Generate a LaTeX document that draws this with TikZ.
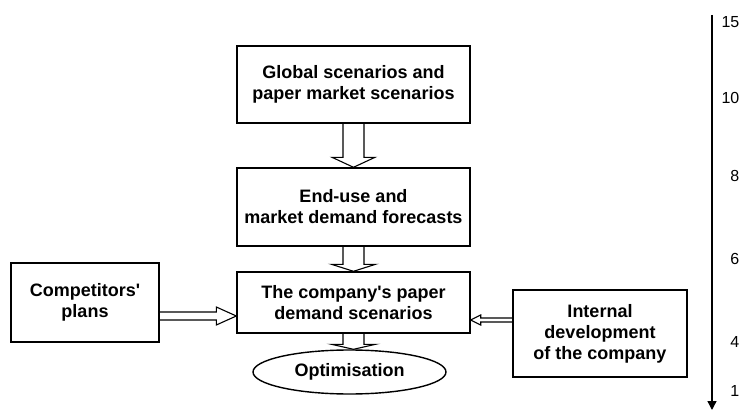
\documentclass[tikz,border=0pt]{standalone}
\usepackage{fontspec}
\setmainfont{Liberation Sans}[Ligatures=TeXOff]
\usetikzlibrary{calc,shapes.geometric,arrows.meta}

% hollow block arrow, vertical: shaft half-width #3, head half-width #4, head length #5
\newcommand\blockv[5]{%
  \draw[blockarrow] ($(#1)+(-#3,0)$) -- ($(#2)+(-#3,{-(#5)})$) -- ($(#2)+(-#4,{-(#5)})$)
    -- (#2) -- ($(#2)+(#4,{-(#5)})$) -- ($(#2)+(#3,{-(#5)})$) -- ($(#1)+(#3,0)$);}
% hollow block arrow, horizontal (negative head length points left)
\newcommand\blockh[5]{%
  \draw[blockarrow] ($(#1)+(0,-#3)$) -- ($(#2)+({-(#5)},-#3)$) -- ($(#2)+({-(#5)},-#4)$)
    -- (#2) -- ($(#2)+({-(#5)},#4)$) -- ($(#2)+({-(#5)},#3)$) -- ($(#1)+(0,#3)$);}

\tikzset{
  box/.style={draw, line width=1.4pt, align=center, inner sep=0pt,
    font=\bfseries\fontsize{18}{21}\selectfont},
  blockarrow/.style={draw, line width=1.1pt, line join=miter},
  scalelabel/.style={anchor=east, inner sep=0pt, font=\fontsize{16}{18}\selectfont},
}

\begin{document}
\begin{tikzpicture}[x=1pt, y=-1pt]
\useasboundingbox (0,0) rectangle (740,412);
\fill[white] (0,0) rectangle (740,412);

% main chain of boxes
\node[box, minimum width=233, minimum height=77] (glob) at (353.5,84.5)
  {Global scenarios and\\paper market scenarios};
\node[box, minimum width=233, minimum height=78] (enduse) at (353.5,207)
  {End-use and\\market demand forecasts};
\node[box, minimum width=233, minimum height=61] (comp) at (353.5,302.5)
  {The company's paper\\demand scenarios};
\node[ellipse, draw, line width=1.4pt, inner sep=0pt, minimum width=193, minimum height=44,
  font=\bfseries\fontsize{18}{21}\selectfont] (opt) at (349.5,372) {Optimisation};

% side inputs
\node[box, minimum width=148, minimum height=79] (rivals) at (85,302.5)
  {Competitors'\\plans};
\node[box, minimum width=174, minimum height=87] (internal) at (600,333.5)
  {Internal\\development\\of the company};

% block arrows down the chain
\blockv{glob.south}{enduse.north}{10.5}{21.5}{10}
\blockv{enduse.south}{comp.north}{10.5}{22}{7}
\coordinate (optin) at (comp.south |- opt.north);
\blockv{comp.south}{optin}{10.5}{22}{5}

% block arrows from the side inputs
\coordinate (rivout) at ($(rivals.east)+(0,13.5)$);
\coordinate (rivin) at (rivout -| comp.west);
\blockh{rivout}{rivin}{4}{9}{20}
\coordinate (intout) at ($(internal.west)+(0,-13.5)$);
\coordinate (intin) at (intout -| comp.east);
\blockh{intout}{intin}{2}{5}{-10}

% time axis
\coordinate (axtop) at (712,15);
\coordinate (axbot) at (712,410);
\draw[line width=1.4pt, -{Triangle[width=9pt,length=9pt]}] (axtop) -- (axbot);
\node[scalelabel] (t15) at (739.5,22) {15};
\node[scalelabel] (t10) at (739.5,98) {10};
\node[scalelabel] (t8) at (739.5,176) {8};
\node[scalelabel] (t6) at (739.5,259) {6};
\node[scalelabel] (t4) at (739.5,342) {4};
\node[scalelabel] (t1) at (739.5,391) {1};
\end{tikzpicture}
\end{document}
